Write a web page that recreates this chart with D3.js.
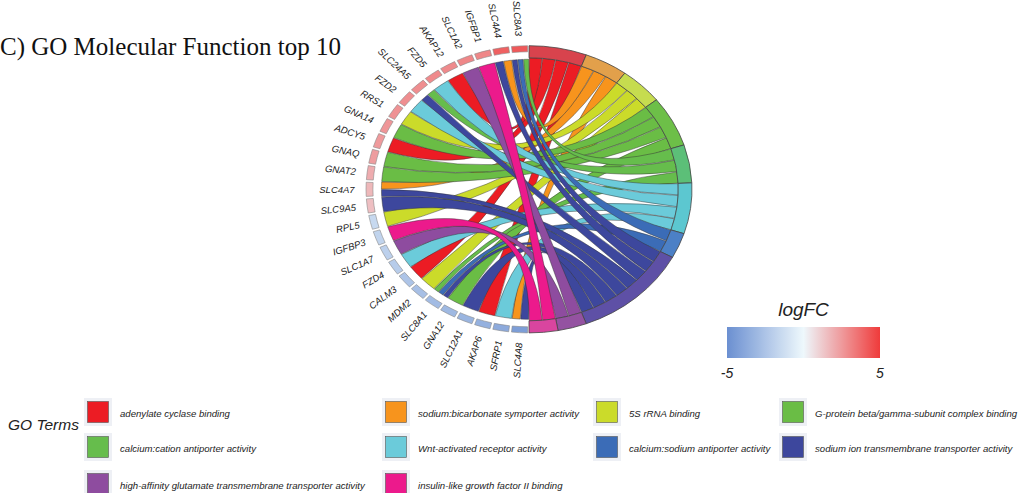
<!DOCTYPE html>
<html>
<head>
<meta charset="utf-8">
<script src="https://cdn.jsdelivr.net/npm/d3@7"></script>
<style>
  body { margin: 0; background: #fff; }
  svg { display: block; }
</style>
</head>
<body>
<svg id="chart" width="1035" height="493"></svg>
<script>
// Genes, listed clockwise starting from the bottom of the circle
const genes = ["SLC4A8","SFRP1","AKAP6","SLC12A1","GNA12","SLC8A1","MDM2","CALM3","FZD4",
  "SLC1A7","IGFBP3","RPL5","SLC9A5","SLC4A7","GNAT2","GNAQ","ADCY5","GNA14","RRS1",
  "FZD2","SLC24A5","FZD5","AKAP12","SLC1A2","IGFBP1","SLC4A4","SLC8A3"];
const logFC = [-4.3,-3.7,-3.4,-3.2,-3.0,-2.9,-2.7,-2.5,-2.1,
  -1.9,-1.7,-1.5,1.5,1.7,2.0,2.4,2.5,2.6,2.7,
  2.8,2.8,2.9,2.9,3.0,3.0,4.0,4.2];
// GO term indices each gene belongs to
const geneTerms = [[1,7],[5],[0],[7],[3],[4,6,7],[2],[0],[5],
  [8],[9],[2],[7],[1,7],[3],[3],[0],[3],[2],
  [5],[4,7],[5],[0],[8],[9],[1,7],[4,6,7]];

const terms = ["adenylate cyclase binding","sodium:bicarbonate symporter activity","5S rRNA binding",
  "G-protein beta/gamma-subunit complex binding","calcium:cation antiporter activity",
  "Wnt-activated receptor activity","calcium:sodium antiporter activity",
  "sodium ion transmembrane transporter activity",
  "high-affinity glutamate transmembrane transporter activity","insulin-like growth factor II binding"];
const termColors = ["#ec1c24","#f7941d","#cbdb2a","#6abd45","#66bd4c","#6bcbda","#3b6cb7","#3d479d","#8e4c9f","#ec1a8c"];
const ringColors = ["#d8434d","#e2a04b","#c6dc4f","#6dbf48","#5cbf78","#5cc7d0","#4c80c6","#5e50a6","#9452a1","#d9459f"];

const fcDomain = [-5, 0, 5];
const fcColors = ["#6b8fd1", "#eef8fc", "#ef3b3b"];

const svg = d3.select("#chart");
const cx = 529, cy = 189.3, R = 143.6, sx = 1.135;
const rad = Math.PI / 180;

const geneUnit = 180 / genes.length;
const nLinks = d3.sum(geneTerms, d => d.length);
const termUnit = 180 / nLinks;

const fcScale = d3.scaleLinear().domain(fcDomain).range(fcColors).interpolate(d3.interpolateRgb);

// Term sectors on the right half, sized by number of genes
const termCounts = terms.map((t, j) => geneTerms.filter(g => g.includes(j)).length);
const termStart = [];
let acc = 0;
termCounts.forEach(c => { termStart.push(acc); acc += c * termUnit; });

// Build links: gene side split equally, term side in equal units
const links = [];
const termSlots = terms.map(() => []);
geneTerms.forEach((ts, i) => {
  const sorted = ts.slice().sort((a, b) => b - a);
  const w = geneUnit / sorted.length;
  sorted.forEach((j, k) => {
    const a0 = 180 + i * geneUnit + k * w;
    const link = { gene: i, term: j, g0: a0, g1: a0 + w };
    links.push(link);
    termSlots[j].push(link);
  });
});
termSlots.forEach((arr, j) => {
  arr.sort((a, b) => b.gene - a.gene);
  arr.forEach((l, k) => {
    l.t0 = termStart[j] + k * termUnit;
    l.t1 = l.t0 + termUnit;
  });
});

const gCircle = svg.append("g").attr("transform", `translate(${cx},${cy}) scale(${sx},1)`);

const rGeneChord = 130, rTermChord = 131.5, rBoxIn = 137.5;
const pad = 0.12;

const ribbon = d3.ribbon();
links.sort((a, b) => a.term - b.term);
gCircle.selectAll("path.chord").data(links).join("path")
  .attr("class", "chord")
  .attr("d", l => ribbon({
    source: { startAngle: (l.g0 + pad) * rad, endAngle: (l.g1 - pad) * rad, radius: rGeneChord },
    target: { startAngle: (l.t0 + pad) * rad, endAngle: (l.t1 - pad) * rad, radius: rTermChord }
  }))
  .attr("fill", l => termColors[l.term])
  .attr("stroke", "#333")
  .attr("stroke-width", 0.55)
  .attr("stroke-opacity", 0.85)
  .attr("vector-effect", "non-scaling-stroke");

// Term ring segments
const termArc = d3.arc().innerRadius(rTermChord).outerRadius(R);
gCircle.selectAll("path.term").data(terms).join("path")
  .attr("class", "term")
  .attr("d", (t, j) => termArc({ startAngle: termStart[j] * rad, endAngle: (termStart[j] + termCounts[j] * termUnit) * rad }))
  .attr("fill", (t, j) => ringColors[j])
  .attr("stroke", "#444")
  .attr("stroke-width", 0.8)
  .attr("vector-effect", "non-scaling-stroke");

// Gene boxes coloured by logFC
const geneArc = d3.arc().innerRadius(rBoxIn).outerRadius(R);
gCircle.selectAll("path.gene").data(genes).join("path")
  .attr("class", "gene")
  .attr("d", (g, i) => geneArc({ startAngle: (180 + i * geneUnit + 0.5) * rad, endAngle: (180 + (i + 1) * geneUnit - 0.5) * rad }))
  .attr("fill", (g, i) => fcScale(logFC[i]))
  .attr("stroke", "#8a8a8a")
  .attr("stroke-width", 0.6)
  .attr("vector-effect", "non-scaling-stroke");

// Gene labels, radial, ending just outside the ring
const rLab = R + 10;
svg.append("g").selectAll("text").data(genes).join("text")
  .attr("transform", (g, i) => {
    const th = (180 + (i + 0.5) * geneUnit) * rad;
    const x = cx + rLab * sx * Math.sin(th);
    const y = cy - rLab * Math.cos(th);
    const rot = Math.atan2(Math.cos(th), -sx * Math.sin(th)) / rad;
    return `translate(${x},${y}) rotate(${rot})`;
  })
  .attr("text-anchor", "end")
  .attr("dominant-baseline", "central")
  .attr("font-family", "Liberation Sans, Arial, sans-serif")
  .attr("font-style", "italic")
  .attr("font-size", 9.5)
  .attr("fill", "#1a1a1a")
  .text(d => d);

// Title
svg.append("text")
  .attr("x", 0).attr("y", 55)
  .attr("font-family", "Liberation Serif, Times New Roman, serif")
  .attr("font-size", 25)
  .attr("fill", "#111")
  .text("C) GO Molecular Function top 10");

// logFC colour bar
const defs = svg.append("defs");
const grad = defs.append("linearGradient").attr("id", "fcgrad");
d3.range(0, 1.0001, 0.05).forEach(f => {
  grad.append("stop").attr("offset", f).attr("stop-color", fcScale(-5 + 10 * f));
});
const barX = 727, barY = 327, barW = 153, barH = 31;
const fcAxis = d3.scaleLinear().domain([-5, 5]).range([barX, barX + barW]);
svg.append("rect").attr("x", barX).attr("y", barY).attr("width", barW).attr("height", barH)
  .attr("fill", "url(#fcgrad)");
svg.append("text").attr("x", barX + barW / 2).attr("y", 316)
  .attr("text-anchor", "middle")
  .attr("font-family", "Liberation Sans, Arial, sans-serif")
  .attr("font-style", "italic").attr("font-size", 19).attr("fill", "#222")
  .text("logFC");
svg.append("g").selectAll("text").data([-5, 5]).join("text")
  .attr("x", d => fcAxis(d)).attr("y", 378)
  .attr("text-anchor", "middle")
  .attr("font-family", "Liberation Sans, Arial, sans-serif")
  .attr("font-style", "italic").attr("font-size", 14).attr("fill", "#222")
  .text(d => d);

// GO Terms legend
const colX = [98, 396, 607, 793];
const rowY = [412, 447, 484];
svg.append("text").attr("x", 8).attr("y", 430)
  .attr("font-family", "Liberation Sans, Arial, sans-serif")
  .attr("font-style", "italic").attr("font-size", 15.5).attr("fill", "#222")
  .text("GO Terms");
const items = svg.append("g").selectAll("g").data(terms).join("g")
  .attr("transform", (t, j) => `translate(${colX[j % 4]},${rowY[Math.floor(j / 4)]})`);
items.append("rect").attr("x", -14).attr("y", -14).attr("width", 28).attr("height", 28)
  .attr("fill", "#eef0f5");
items.append("rect").attr("x", -10.5).attr("y", -10.5).attr("width", 21).attr("height", 21)
  .attr("fill", (t, j) => termColors[j]).attr("stroke", "#555").attr("stroke-width", 0.6);
items.append("text").attr("x", 22).attr("y", 1)
  .attr("dominant-baseline", "central")
  .attr("font-family", "Liberation Sans, Arial, sans-serif")
  .attr("font-style", "italic").attr("font-size", 9.6).attr("fill", "#222")
  .text(t => t);
</script>
</body>
</html>
